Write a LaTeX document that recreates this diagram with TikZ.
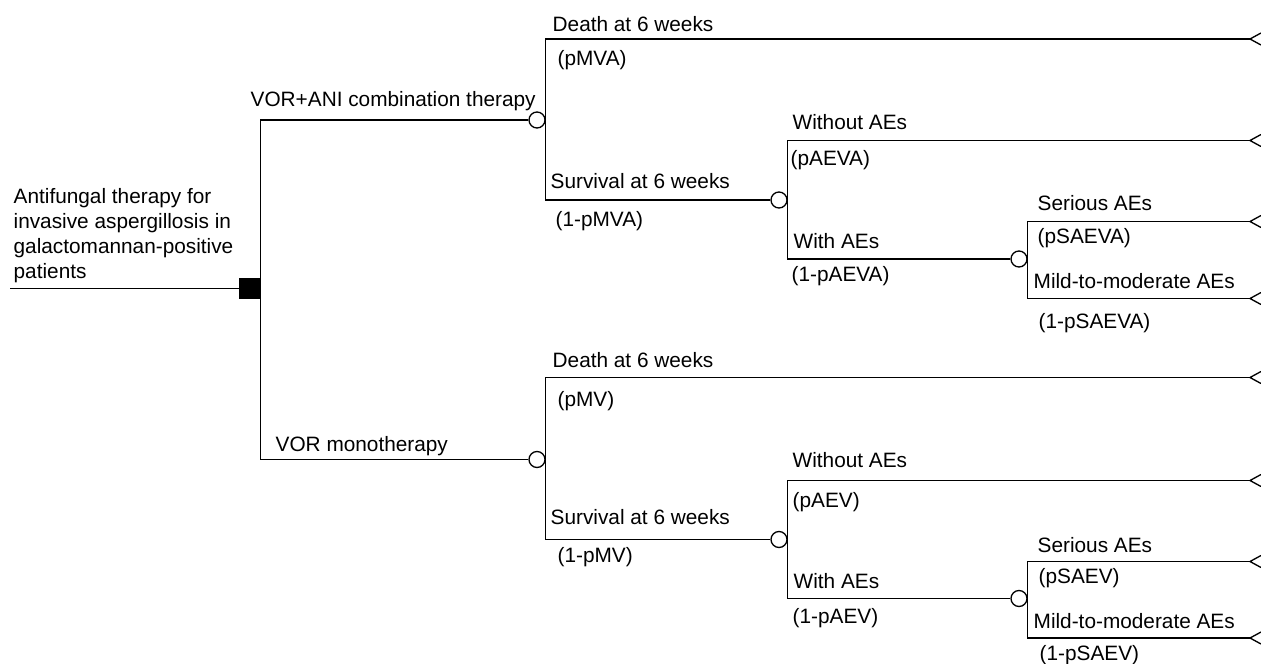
\documentclass[tikz,border=0pt]{standalone}
\usepackage{fontspec}
\setmainfont{Liberation Sans}
\usepackage{tikz}
\usetikzlibrary{arrows}
\tikzstyle{decision}=[draw,fill=black,shape=rectangle,minimum size=15pt,inner sep=0pt]
\tikzstyle{chance}=[draw,fill=white,shape=circle,minimum size=12pt,inner sep=0pt]
\tikzstyle{lbl}=[anchor=base west,inner sep=0pt,font=\fontsize{15.6}{18.75}\selectfont]

\begin{document}
\begin{tikzpicture}[x=0.75pt,y=-0.75pt,line width=1pt]
\useasboundingbox (0,0) rectangle (1261,664);

\coordinate (start) at (10,288.5);
\node[lbl,align=left] (root) at (13,278) {Antifungal therapy for\\invasive aspergillosis in\\galactomannan-positive\\patients};
\draw (start) -- (250,288.5) node[decision](dec){};

% combination arm
\node[chance] (c1) at (537,120) {};
\draw (dec.east) |- (c1.west);
\node[lbl] (vorani) at (250,106.5) {VOR+ANI combination therapy};

\coordinate (t1) at (1250,39);
\draw (c1.east) |- (t1);
\node[lbl] (d1) at (552,31) {Death at 6 weeks};
\node[lbl] (p1) at (557,65) {(pMVA)};

\node[chance] (c2) at (779,200) {};
\draw (c1.east) |- (c2.west);
\node[lbl] (s1) at (550,188) {Survival at 6 weeks};
\node[lbl] (q1) at (555,226) {(1-pMVA)};

\coordinate (t2) at (1250,140.5);
\draw (c2.east) |- (t2);
\node[lbl] (wo1) at (792,129) {Without AEs};
\node[lbl] (p2) at (790,165) {(pAEVA)};

\node[chance] (c3) at (1019,259) {};
\draw (c2.east) |- (c3.west);
\node[lbl] (w1) at (793,248) {With AEs};
\node[lbl] (q2) at (791,281) {(1-pAEVA)};

\coordinate (t3) at (1250,221.5);
\coordinate (t4) at (1250,298.5);
\draw (c3.east) |- (t3);
\draw (c3.east) |- (t4);
\node[lbl] (se1) at (1037,210) {Serious AEs};
\node[lbl] (p3) at (1037,243) {(pSAEVA)};
\node[lbl] (mi1) at (1033,288) {Mild-to-moderate AEs};
\node[lbl] (q3) at (1038,328) {(1-pSAEVA)};

% monotherapy arm
\node[chance] (c4) at (537,459.5) {};
\draw (dec.east) |- (c4.west);
\node[lbl] (vor) at (275,451) {VOR monotherapy};

\coordinate (t5) at (1250,377.5);
\draw (c4.east) |- (t5);
\node[lbl] (d2) at (552,367) {Death at 6 weeks};
\node[lbl] (p4) at (557,406) {(pMV)};

\node[chance] (c5) at (779,539.5) {};
\draw (c4.east) |- (c5.west);
\node[lbl] (s2) at (550,524) {Survival at 6 weeks};
\node[lbl] (q4) at (557,562) {(1-pMV)};

\coordinate (t6) at (1250,480.5);
\draw (c5.east) |- (t6);
\node[lbl] (wo2) at (792,467) {Without AEs};
\node[lbl] (p5) at (792,507) {(pAEV)};

\node[chance] (c6) at (1019,598.5) {};
\draw (c5.east) |- (c6.west);
\node[lbl] (w2) at (793,588) {With AEs};
\node[lbl] (q5) at (792,623) {(1-pAEV)};

\coordinate (t7) at (1250,561.5);
\coordinate (t8) at (1250,638);
\draw (c6.east) |- (t7);
\draw (c6.east) |- (t8);
\node[lbl] (se2) at (1037,552) {Serious AEs};
\node[lbl] (p6) at (1038,583) {(pSAEV)};
\node[lbl] (mi2) at (1033,628) {Mild-to-moderate AEs};
\node[lbl] (q6) at (1039,660) {(1-pSAEV)};

% terminal nodes
\foreach \i in {1,...,8}
  \draw ([shift={(11,-6)}]t\i) -- (t\i) -- ([shift={(11,6)}]t\i);

\end{tikzpicture}
\end{document}
